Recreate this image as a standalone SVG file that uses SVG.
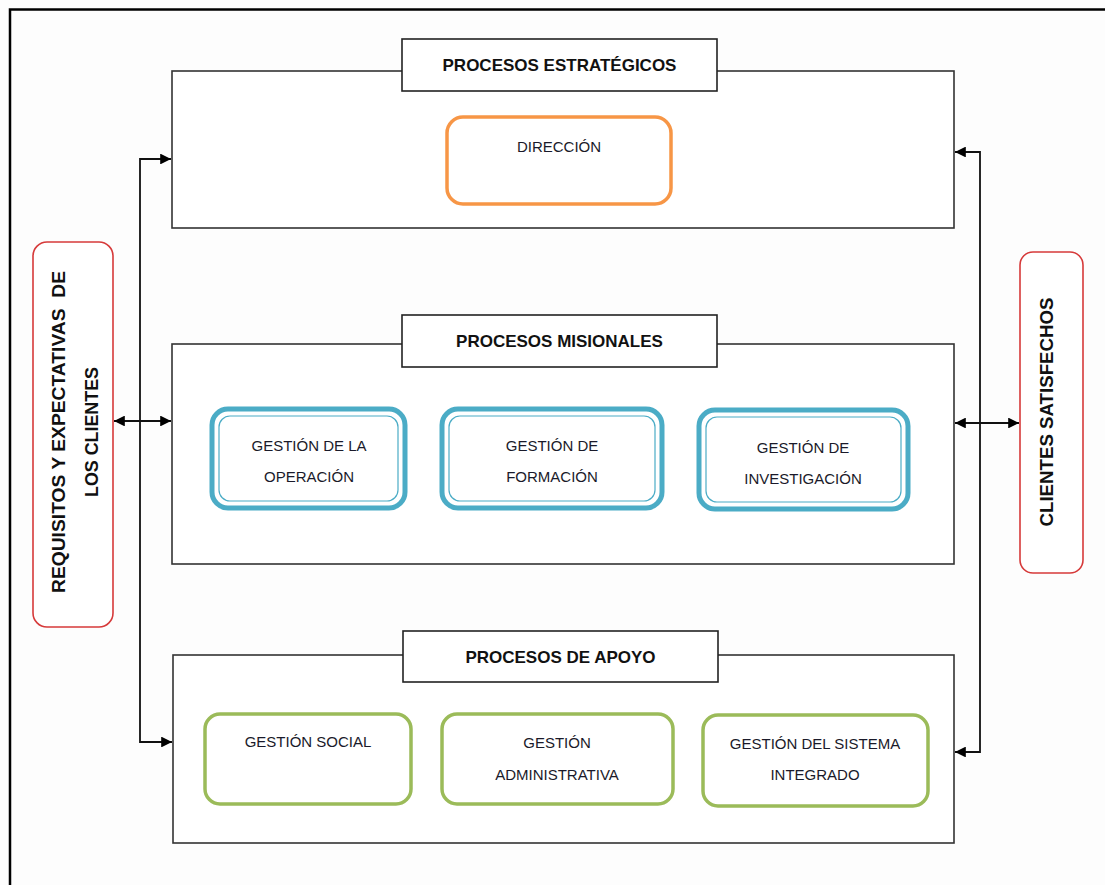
<svg xmlns="http://www.w3.org/2000/svg" width="1105" height="885" viewBox="0 0 1105 885">
  <style>
    .frame { fill: none; stroke: #000; stroke-width: 2.5; }
    .group { fill: #fff; stroke: #333; stroke-width: 1.6; }
    .title { fill: #fff; stroke: #222; stroke-width: 1.6; }
    .ttl { font-family: "Liberation Sans", Arial, sans-serif; font-weight: bold; font-size: 17px; fill: #111; text-anchor: middle; }
    .lbl { font-family: "Liberation Sans", Arial, sans-serif; font-size: 15px; fill: #1a1a2a; text-anchor: middle; }
    .vlbl { font-family: "Liberation Sans", Arial, sans-serif; font-weight: bold; font-size: 18px; fill: #111; text-anchor: middle; white-space: pre; }
    .orange { fill: #fff; stroke: #f79646; stroke-width: 3.5; }
    .blue { fill: #fff; stroke: #4bacc6; stroke-width: 5; }
    .blueIn { fill: none; stroke: #4bacc6; stroke-width: 1.2; }
    .green { fill: #fff; stroke: #9bbb59; stroke-width: 3.5; }
    .red { fill: #fff; stroke: #d63a3a; stroke-width: 1.6; }
    .conn { fill: none; stroke: #111; stroke-width: 1.8; }
  </style>
  <defs>
    <marker id="arrow" viewBox="0 0 10 10" refX="10" refY="5" markerWidth="6.5" markerHeight="6" markerUnits="strokeWidth" orient="auto-start-reverse">
      <path d="M0,0 L10,5 L0,10 z" fill="#000"/>
    </marker>
  </defs>

  <rect x="0" y="0" width="1105" height="885" fill="#fdfdfd"/>
  <!-- page frame (right and bottom edges run off the page) -->
  <path class="frame" d="M10,890 V9.5 H1110"/>

  <!-- strategic processes -->
  <g id="estrategicos">
    <rect class="group" x="172" y="71" width="782" height="157"/>
    <rect class="title" x="402" y="39" width="315" height="52"/>
    <text class="ttl" x="559.5" y="71">PROCESOS ESTRATÉGICOS</text>
  </g>
  <g id="direccion">
    <rect class="orange" x="447" y="117" width="224" height="87" rx="16"/>
    <text class="lbl" x="559" y="152">DIRECCIÓN</text>
  </g>

  <!-- mission processes -->
  <g id="misionales">
    <rect class="group" x="172" y="344" width="782" height="220"/>
    <rect class="title" x="402" y="315" width="315" height="52"/>
    <text class="ttl" x="559.5" y="347">PROCESOS MISIONALES</text>
  </g>
  <g id="gestion-operacion">
    <rect class="blue" x="212" y="409" width="193" height="99" rx="16"/>
    <rect class="blueIn" x="219" y="416" width="179" height="85" rx="11"/>
    <text class="lbl" x="309" y="451">GESTIÓN DE LA</text>
    <text class="lbl" x="309" y="482">OPERACIÓN</text>
  </g>
  <g id="gestion-formacion">
    <rect class="blue" x="442" y="409" width="220" height="99" rx="16"/>
    <rect class="blueIn" x="449" y="416" width="206" height="85" rx="11"/>
    <text class="lbl" x="552" y="451">GESTIÓN DE</text>
    <text class="lbl" x="552" y="482">FORMACIÓN</text>
  </g>
  <g id="gestion-investigacion">
    <rect class="blue" x="699" y="410" width="209" height="99" rx="16"/>
    <rect class="blueIn" x="706" y="417" width="195" height="85" rx="11"/>
    <text class="lbl" x="803" y="453">GESTIÓN DE</text>
    <text class="lbl" x="803" y="484">INVESTIGACIÓN</text>
  </g>

  <!-- support processes -->
  <g id="apoyo">
    <rect class="group" x="173" y="655" width="781" height="188"/>
    <rect class="title" x="403" y="631" width="315" height="51"/>
    <text class="ttl" x="560.5" y="663">PROCESOS DE APOYO</text>
  </g>
  <g id="gestion-social">
    <rect class="green" x="205" y="714" width="206" height="90" rx="15"/>
    <text class="lbl" x="308" y="747">GESTIÓN SOCIAL</text>
  </g>
  <g id="gestion-administrativa">
    <rect class="green" x="442" y="714" width="231" height="90" rx="15"/>
    <text class="lbl" x="557" y="748">GESTIÓN</text>
    <text class="lbl" x="557" y="780">ADMINISTRATIVA</text>
  </g>
  <g id="gestion-sistema">
    <rect class="green" x="703" y="715" width="225" height="91" rx="15"/>
    <text class="lbl" x="815" y="749">GESTIÓN DEL SISTEMA</text>
    <text class="lbl" x="815" y="780">INTEGRADO</text>
  </g>

  <!-- client requirements -->
  <g id="requisitos">
    <rect class="red" x="33" y="242" width="80" height="385" rx="14"/>
    <text class="vlbl" transform="translate(65,432) rotate(-90)" textLength="322" lengthAdjust="spacingAndGlyphs">REQUISITOS Y EXPECTATIVAS  DE</text>
    <text class="vlbl" transform="translate(98,432) rotate(-90)" textLength="130" lengthAdjust="spacingAndGlyphs">LOS CLIENTES</text>
  </g>

  <!-- satisfied clients -->
  <g id="satisfechos">
    <rect class="red" x="1020" y="252" width="63" height="321" rx="13"/>
    <text class="vlbl" transform="translate(1053,412) rotate(-90)" textLength="229" lengthAdjust="spacingAndGlyphs">CLIENTES SATISFECHOS</text>
  </g>

  <!-- connectors -->
  <g id="connectors">
    <path class="conn" d="M140,421 V159 H171" marker-end="url(#arrow)"/>
    <path class="conn" d="M140,421 V742 H172" marker-end="url(#arrow)"/>
    <path class="conn" d="M114,421 H171" marker-start="url(#arrow)" marker-end="url(#arrow)"/>
    <path class="conn" d="M980,423 V152 H955" marker-end="url(#arrow)"/>
    <path class="conn" d="M980,423 V752 H955" marker-end="url(#arrow)"/>
    <path class="conn" d="M955,423 H1019" marker-start="url(#arrow)" marker-end="url(#arrow)"/>
  </g>
</svg>
